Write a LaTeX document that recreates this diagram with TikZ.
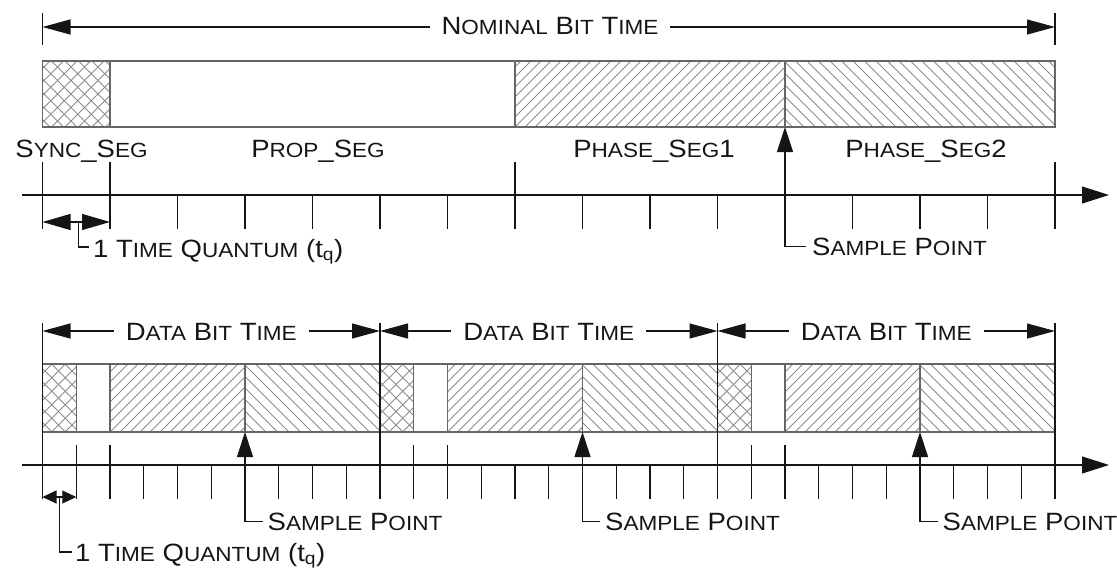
\documentclass[tikz,border=0pt]{standalone}
\usepackage{fontspec}
\setmainfont{Liberation Sans}[FakeStretch=1.1]
\usepackage{xcolor}
\usepackage{tikz}
\usetikzlibrary{arrows.meta, positioning, calc}
\definecolor{can-ink}{HTML}{151515}
\definecolor{can-edge}{HTML}{666666}
\definecolor{can-hatch}{HTML}{8C8C8C}
\newcommand\lc[1]{{\fontsize{20.5}{23}\selectfont #1}}

\begin{document}
\begin{tikzpicture}[
			x=1pt, y=-1pt,
			every node/.style={font=\fontsize{25}{28}\selectfont, text=can-ink, inner sep=0pt},
			wire/.style={draw=can-ink, line width=1.1pt},
			seg/.style={draw=can-edge, line width=1.1pt},
			hatchline/.style={draw=can-hatch, line width=0.9pt},
			rise/.style={path picture={\foreach \s in {-70,-60,...,290}
				\draw[hatchline] ([xshift=\s]path picture bounding box.south west) -- ++(72,-72);}},
			fall/.style={path picture={\foreach \s in {-70,-58.5,...,290}
				\draw[hatchline] ([xshift=\s]path picture bounding box.north west) -- ++(72,72);}},
			sync/.style={seg, path picture={\foreach \s in {-72,-58.5,...,80} {
				\draw[hatchline] ([xshift=\s]path picture bounding box.south west) -- ++(72,-72);
				\draw[hatchline] ([xshift=\s]path picture bounding box.north west) -- ++(72,72);}}},
			phase1/.style={seg, rise},
			phase2/.style={seg, fall},
			spanarrow/.style={wire, {Triangle[length=28pt,width=15pt]}-{Triangle[length=28pt,width=15pt]}},
			tqarrow/.style={wire, {Triangle[length=28pt,width=16pt]}-{Triangle[length=28pt,width=16pt]}},
			tqsmall/.style={wire, {Triangle[length=14pt,width=13pt]}-{Triangle[length=14pt,width=13pt]}},
			timeaxis/.style={wire, -{Triangle[length=27pt,width=17pt]}},
			pointer/.style={wire, -{Triangle[length=25pt,width=16pt]}},
			label/.style={fill=white, inner xsep=12pt, inner ysep=1pt, anchor=base}
			]
			\useasboundingbox (0,0) rectangle (1117,568);
			% nominal bit time
			\draw[wire] (42.5,13) -- (42.5,45);
			\draw[wire] (1055,13) -- (1055,45);
			\coordinate (nb0) at (42.5,27);
			\coordinate (nb1) at (1055,27);
			\draw[spanarrow] (nb0) -- (nb1);
			\node[label] (nbt) at (550,34) {N\lc{OMINAL} B\lc{IT} T\lc{IME}};
			\draw[sync] (42.5,61) rectangle (110,127);
			\draw[seg] (110,61) rectangle (515,127);
			\draw[phase1] (515,61) rectangle (785,127);
			\draw[phase2] (785,61) rectangle (1055,127);
			\node[anchor=base] (syncseg) at (81.5,157) {S\lc{YNC}\_S\lc{EG}};
			\node[anchor=base] (propseg) at (318,157) {P\lc{ROP}\_S\lc{EG}};
			\node[anchor=base] (phseg1) at (654,157) {P\lc{HASE}\_S\lc{EG}1};
			\node[anchor=base] (phseg2) at (926,157) {P\lc{HASE}\_S\lc{EG}2};
			\draw[timeaxis] (22,195) -- (1109,195);
			\foreach \i in {0,...,15}
				\draw[wire] (42.5+\i*67.5,195) -- ++(0,34);
			\foreach \i in {0,1,7,15}
				\draw[wire] (42.5+\i*67.5,162) -- (42.5+\i*67.5,229);
			\coordinate (sp0) at (785,127);
			\node[anchor=base west] (spt0) at (812,255) {S\lc{AMPLE} P\lc{OINT}};
			\draw[pointer] ([xshift=-6pt]spt0.west) -| (sp0);
			\coordinate (tqa) at (42.5,222);
			\coordinate (tqb) at (110,222);
			\draw[tqarrow] (tqa) -- (tqb);
			\node[anchor=base west] (tqt0) at (93,257) {1 T\lc{IME} Q\lc{UANTUM} (t\textsubscript{q})};
			\draw[wire] ($(tqa)!0.53!(tqb)$) |- ([shift={(-4,-10)}]tqt0.base west);
			% data bit times
			\foreach \b in {0,1,2} {
				\pgfmathsetmacro\xo{42.5+\b*337.5}
				\draw[sync] (\xo,364) rectangle ++(33.75,68);
				\draw[seg] (\xo+33.75,364) rectangle ++(33.75,68);
				\draw[phase1] (\xo+67.5,364) rectangle ++(135,68);
				\draw[phase2] (\xo+202.5,364) rectangle ++(135,68);
				\coordinate (db\b) at (\xo,331);
				\coordinate (de\b) at (\xo+337.5,331);
				\draw[spanarrow] (db\b) -- (de\b);
				\node[label] (dbt\b) at (\xo+168.75,340) {D\lc{ATA} B\lc{IT} T\lc{IME}};
				\coordinate (sp\b) at (\xo+202.5,432);
				\node[anchor=base west] (spt\b) at (\xo+225,530) {S\lc{AMPLE} P\lc{OINT}};
				\foreach \k in {1,2}
					\draw[wire] (\xo+\k*33.75,445) -- ++(0,54);
			}
			\foreach \b in {0,...,3}
				\draw[wire] (42.5+\b*337.5,323) -- (42.5+\b*337.5,499);
			\draw[timeaxis] (22,465) -- (1109,465);
			\foreach \i in {0,...,30}
				\draw[wire] (42.5+\i*33.75,465) -- ++(0,34);
			\foreach \b in {0,1,2}
				\draw[pointer] ([xshift=-5pt]spt\b.west) -| (sp\b);
			\coordinate (tqc) at (42.5,497);
			\coordinate (tqd) at (76.25,497);
			\draw[tqsmall] (tqc) -- (tqd);
			\node[anchor=base west] (tqt1) at (75,561) {1 T\lc{IME} Q\lc{UANTUM} (t\textsubscript{q})};
			\draw[wire] ($(tqc)!0.5!(tqd)$) |- ([shift={(-3,-9)}]tqt1.base west);
		\end{tikzpicture}
\end{document}
